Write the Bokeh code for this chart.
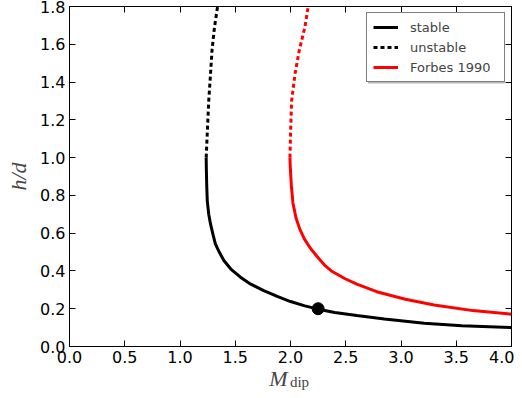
import numpy as np
from bokeh.plotting import figure
from bokeh.layouts import column
from bokeh.models import (LinearAxis, FixedTicker, PrintfTickFormatter, Legend,
                          LegendItem, Label, BoxAnnotation, Range1d)
from bokeh.embed import file_html
from bokeh.resources import INLINE

# ---- data ----
stable_h = [1.0, 0.95, 0.85, 0.77, 0.70, 0.649, 0.59, 0.543, 0.50, 0.455, 0.41,
            0.367, 0.33, 0.296, 0.265, 0.238, 0.215, 0.199, 0.18, 0.164, 0.145,
            0.123, 0.11, 0.10]
stable_m = [1.237, 1.238, 1.242, 1.247, 1.26, 1.276, 1.30, 1.32, 1.355, 1.397,
            1.46, 1.547, 1.64, 1.758, 1.88, 2.0, 2.13, 2.24, 2.40, 2.60, 2.85,
            3.21, 3.55, 4.0]
unstable_h = [1.0, 1.12, 1.30, 1.44, 1.57, 1.69, 1.8]
unstable_m = [1.237, 1.246, 1.26, 1.276, 1.29, 1.312, 1.34]
forbes_h = [1.0, 0.95, 0.85, 0.76, 0.68, 0.62, 0.57, 0.52, 0.47, 0.43, 0.40,
            0.36, 0.33, 0.29, 0.25, 0.22, 0.19, 0.171]
forbes_m = [1.995, 1.998, 2.008, 2.022, 2.05, 2.085, 2.125, 2.18, 2.25, 2.31,
            2.37, 2.49, 2.60, 2.78, 3.04, 3.30, 3.65, 4.0]
forbes_unst_h = [1.0, 1.12, 1.30, 1.44, 1.57, 1.69, 1.8]
forbes_unst_m = [1.995, 2.0, 2.01, 2.04, 2.08, 2.13, 2.16]
dot_m = [2.25]
dot_h = [0.2]
x_ticks = [0.0, 0.5, 1.0, 1.5, 2.0, 2.5, 3.0, 3.5, 4.0]
y_ticks = [0.0, 0.2, 0.4, 0.6, 0.8, 1.0, 1.2, 1.4, 1.6, 1.8]

p = figure(width=514, height=370, output_backend="svg", toolbar_location=None,
           title=None,
           x_range=Range1d(0, 4), y_range=Range1d(0, 1.8),
           min_border_left=69, min_border_right=3, min_border_top=6,
           min_border_bottom=24, x_axis_location=None, y_axis_location=None)
p.grid.visible = False
p.outline_line_color = "black"
p.outline_line_width = 1
p.background_fill_color = "white"
p.border_fill_color = "white"


def make_axis(ticks, labels=True):
    ax = LinearAxis(ticker=FixedTicker(ticks=ticks),
                    formatter=PrintfTickFormatter(format="%.1f"))
    ax.major_tick_in = 6
    ax.major_tick_out = 0
    ax.minor_tick_line_color = None
    ax.major_tick_line_color = "black"
    ax.major_tick_line_width = 1
    ax.axis_line_color = "black"
    ax.major_label_text_font = "DejaVu Sans"
    if labels:
        ax.major_label_text_font_size = "16px"
        ax.major_label_text_color = "black"
        ax.major_label_standoff = 4
    else:
        ax.major_label_text_font_size = "1px"
        ax.major_label_text_color = None
        ax.major_label_standoff = 0
    return ax


xax = make_axis(x_ticks)
yax = make_axis(y_ticks)
yax.axis_label = "h/d"
yax.axis_label_text_font = "Liberation Serif"
yax.axis_label_text_font_style = "italic"
yax.axis_label_text_font_size = "22px"
yax.axis_label_standoff = 6
p.add_layout(xax, "below")
p.add_layout(yax, "left")
p.add_layout(make_axis(x_ticks, labels=False), "above")
p.add_layout(make_axis(y_ticks, labels=False), "right")

r_st = p.line(stable_m, stable_h, line_color="black", line_width=3)
r_un = p.line(unstable_m, unstable_h, line_color="black", line_width=3,
              line_dash="4 3")
r_fb = p.line(forbes_m, forbes_h, line_color="red", line_width=3)
p.line(forbes_unst_m, forbes_unst_h, line_color="red", line_width=3,
       line_dash="4 3")
p.scatter(dot_m, dot_h, size=12, color="black")

# legend shadow
shadow = BoxAnnotation(left=2.70, right=3.94, top=1.735, bottom=1.393,
                       fill_color="#999999", fill_alpha=0.7, line_color=None)
p.add_layout(shadow)

legend = Legend(items=[LegendItem(label="stable", renderers=[r_st]),
                       LegendItem(label="unstable", renderers=[r_un]),
                       LegendItem(label="Forbes 1990", renderers=[r_fb])],
                location="top_right", margin=6, padding=6, spacing=4,
                glyph_width=25, glyph_height=16, label_height=16,
                label_width=88, label_standoff=12,
                label_text_font="DejaVu Sans", label_text_font_size="13px",
                border_line_color="black", border_line_width=1,
                background_fill_color="white", background_fill_alpha=1.0)
p.add_layout(legend, "center")

# strip below the plot that carries the math-style x-axis label M_dip
p2 = figure(width=514, height=20, output_backend="svg", toolbar_location=None,
            title=None,
            x_range=Range1d(0, 4), y_range=Range1d(0, 20),
            min_border_left=69, min_border_right=3, min_border_top=0,
            min_border_bottom=0, x_axis_location=None, y_axis_location=None)
p2.grid.visible = False
p2.outline_line_color = None
p2.background_fill_color = "white"
p2.border_fill_color = "white"
p2.add_layout(Label(x=1.973, y=12, text="M", text_font="Liberation Serif",
                    text_font_style="italic", text_font_size="22px",
                    text_align="right", text_baseline="alphabetic"))
p2.add_layout(Label(x=1.995, y=9, text="dip", text_font="Liberation Serif",
                    text_font_size="15px", text_align="left",
                    text_baseline="alphabetic"))

layout = column(p, p2, spacing=0)
open("out.html", "w").write(file_html(layout, INLINE))
